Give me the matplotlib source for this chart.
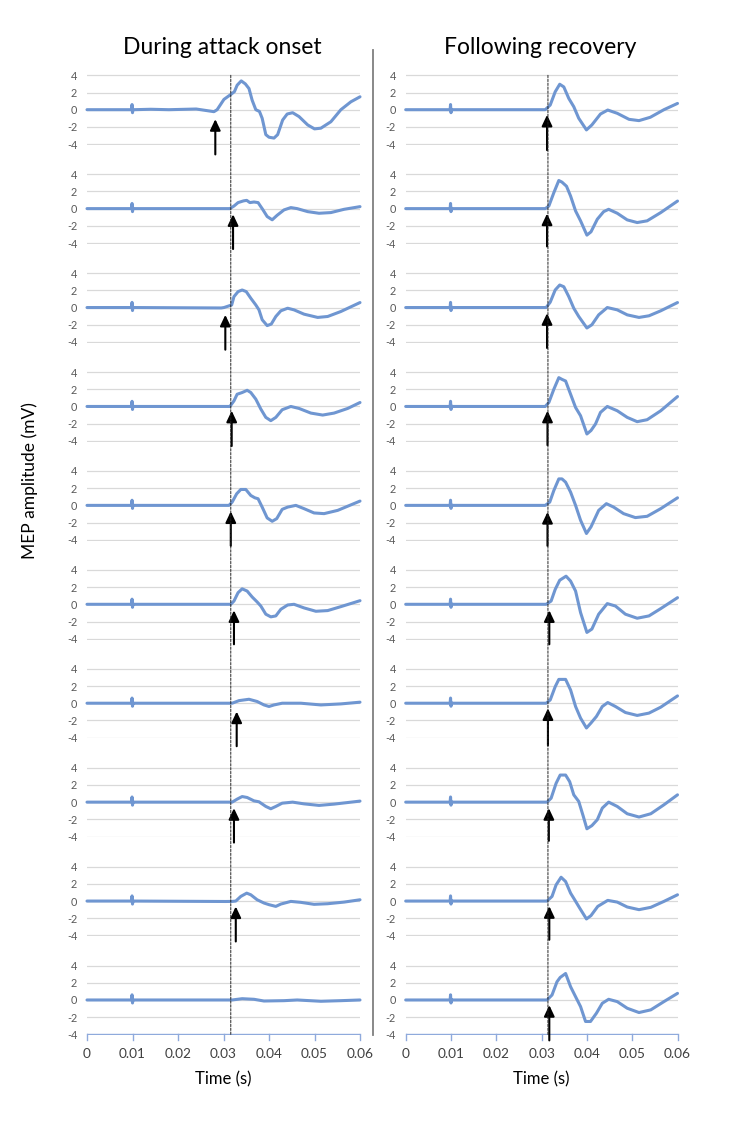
import matplotlib
matplotlib.use("Agg")
import matplotlib.pyplot as plt
from matplotlib.patches import ConnectionPatch
from matplotlib.lines import Line2D

plt.rcParams['font.family'] = ['Lato', 'DejaVu Sans']
plt.rcParams['axes.unicode_minus'] = False

# ---------------- data ----------------
x_ticks = [0, 0.01, 0.02, 0.03, 0.04, 0.05, 0.06]
x_tick_labels = ["0", "0.01", "0.02", "0.03", "0.04", "0.05", "0.06"]
y_ticks = [4, 2, 0, -2, -4]
y_tick_labels = ["4", "2", "0", "-2", "-4"]

# common pre-onset baseline with stimulus artefact at 0.01 s
baseline_t = [0.0, 0.0098, 0.0099, 0.0100, 0.0101, 0.0103]
baseline_v = [0.0, 0.0, 0.6, -0.35, 0.05, 0.0]

onset_t = [
    [0.014, 0.018, 0.024, 0.0279, 0.0286, 0.0301, 0.0316, 0.0324, 0.0330, 0.0339, 0.0348, 0.0356, 0.0363, 0.0371, 0.0379, 0.0385, 0.0393, 0.0400, 0.0411, 0.0419, 0.0430, 0.0440, 0.0452, 0.0466, 0.0485, 0.0500, 0.0514, 0.0536, 0.0558, 0.0580, 0.0600],
    [0.0314, 0.0323, 0.0332, 0.0344, 0.0351, 0.0358, 0.0367, 0.0376, 0.0386, 0.0396, 0.0407, 0.0418, 0.0433, 0.0448, 0.0462, 0.0485, 0.0510, 0.0536, 0.0565, 0.0600],
    [0.0295, 0.0301, 0.0318, 0.0323, 0.0332, 0.0341, 0.0350, 0.0360, 0.0371, 0.0378, 0.0385, 0.0396, 0.0405, 0.0415, 0.0426, 0.0441, 0.0455, 0.0477, 0.0507, 0.0529, 0.0558, 0.0600],
    [0.0314, 0.0323, 0.0330, 0.0341, 0.0352, 0.0360, 0.0371, 0.0382, 0.0393, 0.0404, 0.0415, 0.0429, 0.0448, 0.0466, 0.0492, 0.0518, 0.0543, 0.0573, 0.0600],
    [0.0312, 0.0319, 0.0329, 0.0338, 0.0349, 0.0360, 0.0369, 0.0376, 0.0385, 0.0396, 0.0407, 0.0417, 0.0429, 0.0441, 0.0459, 0.0477, 0.0499, 0.0521, 0.0551, 0.0600],
    [0.0316, 0.0323, 0.0332, 0.0341, 0.0352, 0.0363, 0.0374, 0.0382, 0.0393, 0.0404, 0.0415, 0.0426, 0.0441, 0.0455, 0.0477, 0.0503, 0.0529, 0.0558, 0.0600],
    [0.0319, 0.0334, 0.0356, 0.0374, 0.0389, 0.0400, 0.0411, 0.0429, 0.0470, 0.0514, 0.0558, 0.0600],
    [0.0319, 0.0330, 0.0341, 0.0352, 0.0367, 0.0378, 0.0393, 0.0404, 0.0415, 0.0429, 0.0452, 0.0477, 0.0510, 0.0543, 0.0600],
    [0.0305, 0.0319, 0.0327, 0.0338, 0.0351, 0.0360, 0.0374, 0.0389, 0.0400, 0.0415, 0.0426, 0.0448, 0.0470, 0.0499, 0.0529, 0.0565, 0.0600],
    [0.0319, 0.0341, 0.0367, 0.0389, 0.0433, 0.0462, 0.0514, 0.0558, 0.0600],
]
onset_v = [
    [0.05, 0.0, 0.08, -0.23, 0.0, 1.2, 1.77, 2.1, 2.85, 3.35, 3.0, 2.46, 1.1, 0.0, -0.2, -1.0, -2.9, -3.2, -3.3, -2.9, -1.2, -0.5, -0.35, -0.8, -1.77, -2.23, -2.15, -1.4, 0.0, 0.92, 1.5],
    [0.0, 0.3, 0.7, 0.9, 0.96, 0.7, 0.77, 0.7, -0.08, -0.92, -1.3, -0.77, -0.15, 0.12, 0.0, -0.35, -0.54, -0.46, -0.08, 0.23],
    [-0.05, 0.0, 0.3, 1.27, 1.85, 2.04, 1.85, 1.08, 0.3, -0.27, -1.42, -2.1, -1.92, -1.04, -0.38, -0.08, -0.27, -0.77, -1.15, -1.04, -0.46, 0.58],
    [0.0, 0.65, 1.42, 1.62, 1.88, 1.62, 0.85, -0.3, -1.27, -1.65, -1.27, -0.38, 0.0, -0.23, -0.77, -1.0, -0.77, -0.23, 0.46],
    [0.0, 0.38, 1.35, 1.85, 1.85, 1.15, 0.88, 0.77, -0.2, -1.46, -1.85, -1.54, -0.46, -0.2, 0.0, -0.38, -0.88, -0.96, -0.58, 0.5],
    [0.0, 0.38, 1.35, 1.8, 1.54, 0.85, 0.27, -0.2, -1.15, -1.46, -1.35, -0.58, -0.08, 0.0, -0.42, -0.81, -0.73, -0.27, 0.42],
    [0.0, 0.3, 0.46, 0.2, -0.2, -0.38, -0.2, 0.0, 0.0, -0.2, -0.08, 0.12],
    [0.0, 0.35, 0.65, 0.54, 0.15, 0.04, -0.5, -0.77, -0.5, -0.12, 0.0, -0.2, -0.38, -0.23, 0.12],
    [-0.05, -0.04, 0.0, 0.54, 0.92, 0.73, 0.15, -0.23, -0.42, -0.62, -0.35, -0.04, -0.15, -0.38, -0.31, -0.12, 0.15],
    [0.0, 0.15, 0.08, -0.12, -0.08, 0.0, -0.15, -0.08, 0.0],
]

recovery_t = [
    [0.0308, 0.0319, 0.0330, 0.0340, 0.0349, 0.0360, 0.0371, 0.0382, 0.0399, 0.0411, 0.0430, 0.0446, 0.0467, 0.0493, 0.0515, 0.0540, 0.0570, 0.0600],
    [0.0308, 0.0316, 0.0327, 0.0338, 0.0345, 0.0355, 0.0364, 0.0375, 0.0386, 0.0400, 0.0409, 0.0423, 0.0437, 0.0448, 0.0467, 0.0489, 0.0511, 0.0533, 0.0563, 0.0600],
    [0.0310, 0.0319, 0.0330, 0.0340, 0.0349, 0.0360, 0.0371, 0.0382, 0.0400, 0.0411, 0.0426, 0.0445, 0.0467, 0.0489, 0.0515, 0.0537, 0.0563, 0.0600],
    [0.0308, 0.0316, 0.0327, 0.0338, 0.0345, 0.0353, 0.0364, 0.0375, 0.0386, 0.0400, 0.0409, 0.0419, 0.0430, 0.0445, 0.0467, 0.0489, 0.0511, 0.0533, 0.0563, 0.0600],
    [0.0308, 0.0318, 0.0327, 0.0338, 0.0345, 0.0353, 0.0364, 0.0375, 0.0386, 0.0399, 0.0409, 0.0426, 0.0443, 0.0459, 0.0481, 0.0507, 0.0533, 0.0563, 0.0600],
    [0.0310, 0.0321, 0.0330, 0.0340, 0.0354, 0.0364, 0.0375, 0.0386, 0.0400, 0.0411, 0.0426, 0.0445, 0.0463, 0.0485, 0.0511, 0.0537, 0.0563, 0.0600],
    [0.0310, 0.0319, 0.0330, 0.0338, 0.0353, 0.0364, 0.0375, 0.0386, 0.0399, 0.0409, 0.0421, 0.0434, 0.0446, 0.0463, 0.0485, 0.0511, 0.0537, 0.0563, 0.0600],
    [0.0312, 0.0321, 0.0332, 0.0341, 0.0353, 0.0362, 0.0371, 0.0382, 0.0392, 0.0400, 0.0411, 0.0423, 0.0434, 0.0448, 0.0467, 0.0489, 0.0515, 0.0541, 0.0570, 0.0600],
    [0.0312, 0.0323, 0.0332, 0.0343, 0.0353, 0.0364, 0.0373, 0.0384, 0.0399, 0.0409, 0.0424, 0.0446, 0.0467, 0.0489, 0.0515, 0.0541, 0.0570, 0.0600],
    [0.0312, 0.0323, 0.0334, 0.0341, 0.0353, 0.0364, 0.0375, 0.0386, 0.0397, 0.0408, 0.0421, 0.0434, 0.0448, 0.0467, 0.0489, 0.0515, 0.0541, 0.0570, 0.0600],
]
recovery_v = [
    [0.0, 0.54, 2.08, 2.96, 2.65, 1.31, 0.35, -1.0, -2.35, -1.77, -0.5, -0.04, -0.42, -1.12, -1.27, -0.88, 0.0, 0.73],
    [0.0, 0.3, 1.85, 3.27, 3.08, 2.6, 1.46, -0.27, -1.42, -3.08, -2.7, -1.23, -0.35, -0.08, -0.54, -1.31, -1.62, -1.42, -0.46, 0.88],
    [0.0, 0.62, 2.04, 2.62, 2.42, 1.27, -0.08, -1.04, -2.38, -2.0, -0.85, 0.0, -0.27, -0.85, -1.15, -0.96, -0.38, 0.58],
    [0.0, 0.46, 2.0, 3.35, 3.15, 2.96, 1.42, -0.12, -1.08, -3.2, -2.8, -2.04, -0.69, 0.0, -0.5, -1.27, -1.77, -1.54, -0.5, 1.15],
    [0.0, 0.38, 1.73, 3.08, 3.08, 2.7, 1.54, 0.0, -1.73, -3.27, -2.5, -0.58, 0.2, -0.2, -0.96, -1.42, -1.27, -0.38, 0.88],
    [0.0, 0.38, 1.73, 2.8, 3.27, 2.7, 1.54, -0.96, -3.27, -2.88, -1.15, 0.08, -0.2, -1.15, -1.62, -1.35, -0.5, 0.77],
    [0.0, 0.38, 1.92, 2.77, 2.77, 1.54, -0.38, -1.73, -2.88, -2.3, -1.54, -0.38, 0.08, -0.38, -1.08, -1.42, -1.15, -0.46, 0.85],
    [0.0, 0.46, 2.19, 3.15, 3.15, 2.38, 0.85, 0.08, -1.65, -3.1, -2.73, -2.04, -0.69, 0.0, -0.5, -1.35, -1.73, -1.35, -0.31, 0.85],
    [0.0, 0.54, 1.88, 2.77, 2.27, 0.92, 0.15, -0.81, -2.08, -1.69, -0.62, 0.08, -0.12, -0.69, -1.0, -0.73, -0.04, 0.73],
    [0.0, 0.58, 2.12, 2.62, 3.08, 1.54, 0.38, -0.77, -2.5, -2.5, -1.54, -0.38, 0.08, -0.19, -0.96, -1.46, -1.15, -0.19, 0.77],
]

onset_arrow_x = [0.0282, 0.0321, 0.0304, 0.0318, 0.0316, 0.0323, 0.0329, 0.0323, 0.0327, None]
onset_arrow_tip = [-1.1, -0.66, -0.85, -0.5, -0.7, -0.7, -0.97, -0.7, -0.63, None]
onset_arrow_tail = [-5.2, -4.7, -4.9, -4.6, -4.7, -4.65, -5.0, -4.7, -4.7, None]
recovery_arrow_x = [0.0312, 0.0312, 0.0312, 0.0313, 0.0313, 0.0317, 0.0314, 0.0316, 0.0317, 0.0317]
recovery_arrow_tip = [-0.6, -0.58, -0.66, -0.5, -0.77, -0.7, -0.6, -0.7, -0.6, -0.6]
recovery_arrow_tail = [-4.7, -4.4, -4.7, -4.5, -4.7, -4.65, -4.9, -4.5, -4.5, -4.7]

onset_dash_t = 0.0316
recovery_dash_t = 0.0314

titles = ["During attack onset", "Following recovery"]
x_label = "Time (s)"
y_label = "MEP amplitude (mV)"

# ---------------- layout ----------------
W, H = 750, 1134
fig = plt.figure(figsize=(W / 100, H / 100), dpi=100)

col_x = [(87, 360), (405.7, 677.5)]
zero0, step = 109.7, 98.92
ylim = 4.1
half = 34.4 * ylim / 4.0

line_color = '#6F96D1'
grid_color = '#D9D9D9'
axis_color = '#8FAADC'
tick_color = '#595959'

columns = [
    (onset_t, onset_v, onset_arrow_x, onset_arrow_tip, onset_arrow_tail, onset_dash_t),
    (recovery_t, recovery_v, recovery_arrow_x, recovery_arrow_tip, recovery_arrow_tail, recovery_dash_t),
]

for c, (ts, vs, ax_x, ax_tip, ax_tail, dash_t) in enumerate(columns):
    x0, x1 = col_x[c]
    axes = []
    for i in range(10):
        zero = zero0 + step * i
        ax = fig.add_axes([x0 / W, (H - (zero + half)) / H, (x1 - x0) / W, 2 * half / H])
        ax.set_facecolor('none')
        ax.set_xlim(0, 0.06)
        ax.set_ylim(-ylim, ylim)
        for s in ax.spines.values():
            s.set_visible(False)
        ax.set_yticks(y_ticks)
        ax.set_yticklabels(y_tick_labels)
        ax.tick_params(axis='y', length=0, pad=7, labelsize=7.8, labelcolor=tick_color)
        for yv in y_ticks:
            if i == 9 and yv == -4:
                continue
            ax.axhline(yv, color=grid_color, lw=0.9, zorder=1)
        if i == 9:
            ax.axhline(-4, color=axis_color, lw=1.0, zorder=1)
            ax.set_xticks(x_ticks)
            ax.set_xticklabels(x_tick_labels)
            ax.tick_params(axis='x', length=0, pad=9, labelsize=9.8, labelcolor='#404040')
            for xv in x_ticks:
                ax.plot([xv, xv], [-4, -4.6], color=axis_color, lw=1.0, clip_on=False, zorder=1)
        else:
            ax.set_xticks([])
        t = baseline_t + ts[i]
        v = baseline_v + vs[i]
        ax.plot(t, v, color=line_color, lw=2.2, solid_joinstyle='round',
                solid_capstyle='round', zorder=3, clip_on=False)
        if ax_x[i] is not None:
            ax.annotate('', xy=(ax_x[i], ax_tip[i]), xytext=(ax_x[i], ax_tail[i]),
                        arrowprops=dict(arrowstyle='-|>,head_length=0.55,head_width=0.26',
                                        color='black', lw=1.5, shrinkA=0, shrinkB=0,
                                        mutation_scale=12),
                        annotation_clip=False, zorder=5)
        axes.append(ax)
    # dashed reference line spanning the whole column
    con = ConnectionPatch(xyA=(dash_t, 4), coordsA=axes[0].transData,
                          xyB=(dash_t, -4), coordsB=axes[-1].transData,
                          color='#222222', lw=0.7, linestyle=(0, (2.5, 1.5)), zorder=4)
    fig.add_artist(con)
    # column title and x label
    cx = (x0 + x1) / 2 / W
    fig.text(cx - 0.002, 1 - 47 / H, titles[c], ha='center', va='center', fontsize=16.5, color='black')
    fig.text(cx, 1 - 1079 / H, x_label, ha='center', va='center', fontsize=12, color='black')

# separator line between columns
fig.add_artist(Line2D([373 / W, 373 / W], [1 - 50 / H, 1 - 1035 / H], color='#7F7F7F', lw=1.3))

fig.text(30 / W, 1 - 481 / H, y_label, rotation=90, ha='center', va='center', fontsize=12.5, color='black')

fig.savefig('out.png', dpi=100)
